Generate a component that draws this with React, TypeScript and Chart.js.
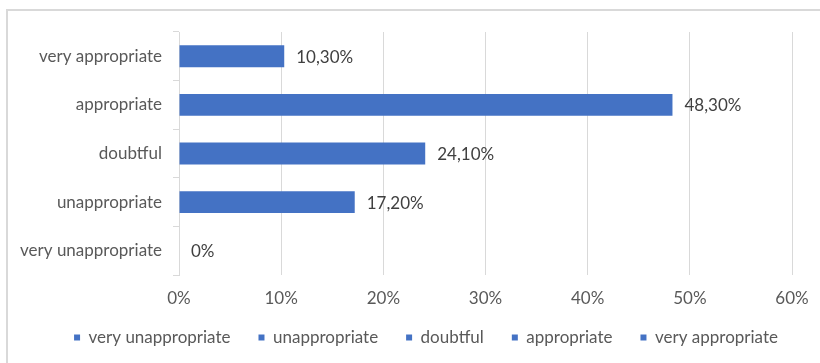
import React, { useEffect, useRef } from 'react';
import { Chart, registerables } from 'chart.js';

Chart.register(...registerables);

const categories = ['very unappropriate', 'unappropriate', 'doubtful', 'appropriate', 'very appropriate'];
const values = [0, 17.2, 24.1, 48.3, 10.3];
const xTickMax = 60;
const xTickStep = 10;

const BAR_COLOR = '#4472C4';
const TEXT_COLOR = '#595959';
const GRID_COLOR = '#d9d9d9';
const FONT_FAMILY = 'Lato, "Liberation Sans", sans-serif';
const FONT_SIZE = 17;
const CANVAS_W = 852;
const CANVAS_H = 363;
const LEGEND_H = 50;
const XAXIS_H = 38;
const LEGEND_SHIFT_Y = -12;
const LEGEND_SHIFT_X = 30;

const formatValue = (v: number) => (v === 0 ? '0%' : v.toFixed(2).replace('.', ',') + '%');

const dataLabelPlugin = {
  id: 'dataLabels',
  beforeLayout(chart: any) {
    const lg = chart.legend;
    if (lg && !lg.__patched) {
      const orig = lg.fit;
      lg.fit = function () {
        orig.call(this);
        this.height = LEGEND_H;
      };
      lg.__patched = true;
    }
  },
  afterLayout(chart: any) {
    const lg = chart.legend;
    if (lg) {
      lg.top += LEGEND_SHIFT_Y;
      lg.bottom += LEGEND_SHIFT_Y;
      lg.left += LEGEND_SHIFT_X;
      lg.right += LEGEND_SHIFT_X;
    }
  },
  afterDatasetsDraw(chart: any) {
    const ctx = chart.ctx;
    const meta = chart.getDatasetMeta(0);
    ctx.save();
    ctx.font = `${FONT_SIZE}px ${FONT_FAMILY}`;
    ctx.fillStyle = '#404040';
    ctx.textAlign = 'left';
    ctx.textBaseline = 'middle';
    meta.data.forEach((el: any, i: number) => {
      ctx.fillText(formatValue(values[i]), el.x + 12, el.y + 1);
    });
    ctx.restore();
  },
};

export default function App() {
  const canvasRef = useRef<HTMLCanvasElement | null>(null);

  useEffect(() => {
    if (!canvasRef.current) return;
    const chart = new Chart(canvasRef.current, {
      type: 'bar',
      data: {
        labels: categories,
        datasets: [
          {
            label: 'values',
            data: values,
            backgroundColor: BAR_COLOR,
            categoryPercentage: 1,
            barPercentage: 0.45,
          },
        ],
      },
      options: {
        indexAxis: 'y',
        animation: false,
        responsive: false,
        maintainAspectRatio: false,
        layout: { padding: { top: 32, right: CANVAS_W - 792, left: 0, bottom: 0 } },
        font: { family: FONT_FAMILY, size: FONT_SIZE },
        scales: {
          x: {
            min: 0,
            max: xTickMax,
            afterFit: (scale: any) => {
              scale.height = XAXIS_H;
            },
            ticks: {
              stepSize: xTickStep,
              color: TEXT_COLOR,
              padding: 13,
              font: { family: FONT_FAMILY, size: FONT_SIZE },
              callback: (v: any) => v + '%',
            },
            grid: { color: GRID_COLOR, drawTicks: false, lineWidth: 1 },
            border: { display: false },
          },
          y: {
            reverse: true,
            afterFit: (scale: any) => {
              scale.width = 179;
            },
            ticks: {
              color: TEXT_COLOR,
              padding: 11,
              font: { family: FONT_FAMILY, size: FONT_SIZE },
            },
            grid: {
              drawOnChartArea: false,
              drawTicks: true,
              tickLength: 6,
              color: GRID_COLOR,
              offset: true,
            },
            border: { display: true, color: GRID_COLOR },
          },
        },
        plugins: {
          tooltip: { enabled: false },
          legend: {
            position: 'bottom',
            labels: {
              color: TEXT_COLOR,
              font: { family: FONT_FAMILY, size: FONT_SIZE },
              boxWidth: 6,
              boxHeight: 6,
              padding: 28,
              generateLabels: () =>
                categories.map((c, i) => ({
                  text: c,
                  fillStyle: BAR_COLOR,
                  strokeStyle: BAR_COLOR,
                  lineWidth: 0,
                  hidden: false,
                  index: i,
                  datasetIndex: 0,
                  fontColor: TEXT_COLOR,
                })),
            },
          },
        },
      },
      plugins: [dataLabelPlugin],
    });
    return () => chart.destroy();
  }, []);

  return (
    <div style={{ position: 'fixed', left: 0, top: 0, width: 820, height: 363, background: '#fff', overflow: 'hidden' }}>
      <div
        style={{
          position: 'absolute',
          left: 6,
          top: 9,
          width: 860,
          height: 370,
          border: `2px solid ${GRID_COLOR}`,
          boxSizing: 'border-box',
        }}
      />
      <canvas ref={canvasRef} width={CANVAS_W} height={CANVAS_H} style={{ position: 'absolute', left: 0, top: 0 }} />
    </div>
  );
}
